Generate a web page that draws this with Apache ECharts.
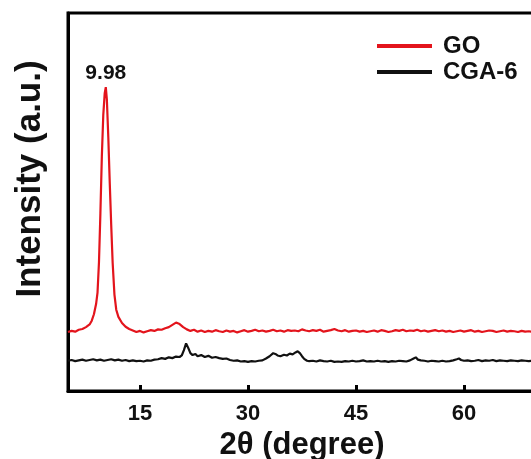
<!DOCTYPE html>
<html>
<head>
<meta charset="utf-8">
<script src="https://cdn.jsdelivr.net/npm/echarts@6/dist/echarts.min.js"></script>
<style>html,body{margin:0;padding:0;background:#fff}#c{width:531px;height:459px}</style>
</head>
<body>
<div id="c"></div>
<script>
// ---- data ----
const seriesNames = ['GO', 'CGA-6'];
const xTickValues = [15, 30, 45, 60];
const peakLabel = '9.98';
const xTitle = '2θ (degree)';
const yTitle = 'Intensity (a.u.)';

const goAngle = [5,5.5,6,6.5,7,7.5,8,8.3,8.6,8.9,9.1,9.3,9.5,9.7,9.9,10.1,10.25,10.4,10.6,10.8,11,11.2,11.45,11.7,12,12.5,13,13.5,
14,14.5,15,15.5,16,16.5,17,17.5,18,18.5,19,19.5,20,20.5,21,21.5,22,22.5,23,23.5,24,24.5,25,25.5,26,26.5,27,27.5,28,28.5,29,29.5,
30,30.5,31,31.5,32,32.5,33,33.5,34,34.5,35,35.5,36,36.5,37,37.5,38,38.5,39,39.5,40,40.5,41,41.5,42,42.5,43,43.5,44,44.5,
45,45.5,46,46.5,47,47.5,48,48.5,49,49.5,50,50.5,51,51.5,52,52.5,53,53.5,54,54.5,55,55.5,56,56.5,57,57.5,58,58.5,59,59.5,
60,60.5,61,61.5,62,62.5,63,63.5,64,64.5,65,65.5,66,66.5,67,67.5,68,68.5,69,69.5,70];
const goIntensity = [15.6,15.9,15.7,16.2,16.4,16.9,17.6,18.6,20.3,23.0,26.0,34,47,62,73,78.8,80.4,77,67,55,44,34,25.5,21.5,19.6,18.0,17.0,16.4,
16.0,15.6,15.9,15.5,15.8,16.1,15.9,16.3,16.2,16.6,16.9,17.5,18.1,17.7,16.9,16.3,15.9,16.2,15.7,16.0,15.6,15.9,15.7,16.1,15.8,15.6,16.0,15.7,15.9,15.5,15.8,16.1,
15.7,15.9,16.2,15.8,16.0,15.7,15.9,16.2,15.8,16.0,15.7,16.1,15.9,16.0,15.8,16.3,16.0,15.8,16.1,15.9,16.2,15.7,15.9,16.1,16.4,16.0,15.8,16.1,15.7,15.9,
16.0,15.7,15.9,15.6,15.8,16.0,15.7,16.1,15.9,15.6,15.8,16.1,15.9,16.2,15.8,16.0,15.9,16.2,15.8,16.0,15.7,15.9,16.1,15.8,16.0,15.7,15.9,15.6,15.8,16.0,
15.7,15.9,16.1,15.7,15.9,15.6,15.8,16.0,15.9,15.6,15.8,16.0,15.7,15.9,15.8,15.6,15.9,15.7,15.8,15.6,15.8];

const cgaAngle = [5,5.5,6,6.5,7,7.5,8,8.5,9,9.5,10,10.5,11,11.5,12,12.5,13,13.5,14,14.5,15,15.5,16,16.5,17,17.5,18,18.5,19,19.5,
20,20.5,20.8,21.1,21.4,21.7,22,22.3,22.7,23,23.5,24,24.5,25,25.5,26,26.5,27,27.5,28,28.5,29,29.5,30,30.5,31,31.5,32,32.5,33,
33.5,33.8,34.1,34.5,35,35.4,35.8,36.2,36.6,36.9,37.2,37.5,37.8,38.2,38.5,39,39.5,40,40.5,41,41.5,42,42.5,43,43.5,44,44.5,
45,45.5,46,46.5,47,47.5,48,48.5,49,49.5,50,50.5,51,51.5,52,52.5,53,53.3,53.6,54,54.5,55,55.5,56,56.5,57,57.5,58,58.5,59,59.3,59.6,
60,60.5,61,61.5,62,62.5,63,63.5,64,64.5,65,65.5,66,66.5,67,67.5,68,68.5,69,69.5,70];
const cgaIntensity = [8.0,8.2,7.9,8.1,8.3,8.0,8.2,8.4,8.1,8.3,8.0,8.2,8.4,8.1,8.3,8.0,8.2,7.9,8.1,7.9,8.0,7.8,8.1,8.0,8.3,8.4,8.7,8.5,8.9,8.7,
9.1,9.0,9.4,10.8,12.6,11.4,10.0,9.5,9.8,9.2,9.5,9.0,9.3,8.8,9.0,8.7,8.5,8.6,8.2,8.0,8.1,7.8,7.9,7.7,7.9,7.8,8.0,8.1,8.6,9.2,
10.0,9.8,9.4,9.2,9.6,9.4,9.9,9.7,10.2,10.5,10.0,9.2,8.5,8.0,7.9,8.0,7.8,8.1,7.9,7.8,8.0,7.7,7.8,7.7,7.9,7.8,8.0,
7.8,7.9,8.1,7.8,7.9,7.8,8.0,7.8,7.9,7.7,7.9,7.8,8.0,7.9,7.8,8.1,8.6,8.9,8.3,8.1,8.0,7.8,8.0,7.9,7.8,8.0,7.8,7.9,8.1,8.4,8.6,8.2,
8.0,8.1,7.9,8.0,8.2,7.9,8.1,8.0,8.2,7.9,8.1,8.0,7.9,8.1,8.0,7.9,8.1,8.0,7.9,8.0,8.1];

// ---- build ----
const FONT = '"Liberation Sans", Arial, sans-serif';
const goData = goAngle.map((a, i) => [a, goIntensity[i]]);
const cgaData = cgaAngle.map((a, i) => [a, cgaIntensity[i]]);

const chart = echarts.init(document.getElementById('c'), null, { renderer: 'canvas' });
chart.setOption({
  animation: false,
  backgroundColor: '#fff',
  grid: { left: 68, right: -5, top: 13, bottom: 68, containLabel: false, outerBoundsMode: 'none',
    show: true, borderColor: '#000', borderWidth: 3, backgroundColor: 'transparent' },
  legend: {
    orient: 'vertical', left: 377, top: 33, padding: 0, itemWidth: 55, itemHeight: 4, itemGap: 0, icon: 'rect',
    textStyle: { fontFamily: FONT, fontWeight: 'bold', fontSize: 24, color: '#111', lineHeight: 26, padding: [0, 0, 0, 6] },
    data: seriesNames
  },
  xAxis: {
    type: 'value', min: 5, max: 70,
    name: xTitle, nameLocation: 'middle', nameGap: 36,
    nameTextStyle: { fontFamily: FONT, fontWeight: 'bold', fontSize: 31, color: '#111' },
    axisLine: { show: true, lineStyle: { color: '#000', width: 3 } },
    axisTick: { show: true, inside: true, length: 6, lineStyle: { color: '#000', width: 3 }, customValues: xTickValues },
    axisLabel: { fontFamily: FONT, fontWeight: 'bold', fontSize: 22, color: '#111', margin: 12, customValues: xTickValues },
    splitLine: { show: false }
  },
  yAxis: {
    type: 'value', min: 0, max: 100,
    axisLine: { show: true, lineStyle: { color: '#000', width: 3 } },
    axisTick: { show: false }, axisLabel: { show: false }, splitLine: { show: false }
  },
  graphic: [{
    type: 'text', x: 30, y: 179, rotation: Math.PI / 2,
    style: { text: yTitle, fontFamily: FONT, fontWeight: 'bold', fontSize: 35, fill: '#111', align: 'center', verticalAlign: 'middle' }
  }],
  series: [
    { name: seriesNames[0], type: 'line', data: goData, showSymbol: false, symbol: 'none', color: '#e3141c',
      lineStyle: { width: 2.2, color: '#e3141c' }, z: 3,
      markPoint: {
        symbol: 'circle', symbolSize: 0, silent: true,
        label: { show: true, formatter: peakLabel, position: 'top', distance: 3,
          fontFamily: FONT, fontWeight: 'bold', fontSize: 21, color: '#111' },
        data: [{ type: 'max' }]
      } },
    { name: seriesNames[1], type: 'line', data: cgaData, showSymbol: false, symbol: 'none', color: '#111',
      lineStyle: { width: 2.2, color: '#111' }, z: 3 }
  ]
});
</script>
</body>
</html>
